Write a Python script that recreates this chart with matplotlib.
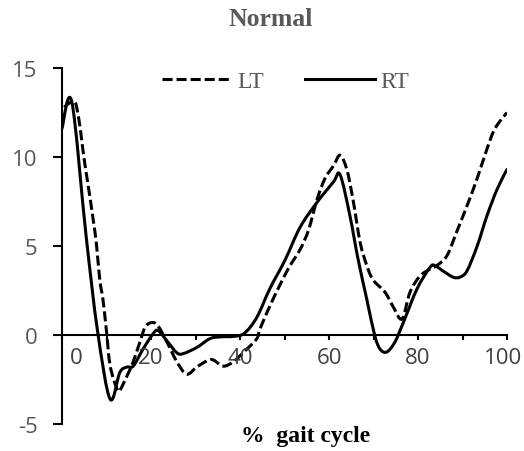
import numpy as np
import matplotlib
matplotlib.use('Agg')
import matplotlib.pyplot as plt
from matplotlib.path import Path
from matplotlib.patches import PathPatch
from matplotlib.lines import Line2D
from matplotlib.transforms import ScaledTranslation

# ---------------- données ----------------
titre = 'Normal'
label_x = '%  gait cycle'

x_rt = [0, 2.2, 5.4, 8.0, 10.8, 13, 14.6, 16, 18.2, 20.4, 21.6, 23.8, 25.8,
        27.2, 30.3, 33.3, 36, 38.5, 41, 43.8, 46.7, 50.1, 53.5, 57.3, 61,
        62.5, 64.7, 66.5, 68.5, 70.3, 71.5, 73, 74.8, 76.7, 79.8, 82.7,
        83.8, 85.6, 87.9, 89.4, 91, 93.3, 95.5, 97.8, 100]
y_rt = [11.6, 13.1, 5.6, 0.2, -3.6, -2.1, -1.8, -1.75, -0.8, 0.05, 0.25,
        -0.4, -1.0, -1.05, -0.7, -0.2, -0.1, -0.08, 0.1, 1.0, 2.6, 4.2,
        6.05, 7.45, 8.6, 9.0, 6.7, 4.3, 2.0, -0.05, -0.8, -0.95, -0.4, 0.7,
        2.6, 3.8, 3.9, 3.6, 3.25, 3.25, 3.6, 5.0, 6.7, 8.2, 9.3]

x_lt = [0.5, 1.5, 2.9, 3.8, 4.5, 5.2, 7.4, 8.5, 9.2, 10, 10.8, 12.3, 13,
        14.6, 16, 17.5, 18.7, 20.2, 21.6, 23.6, 25.8, 28, 30.3, 32.6, 34,
        36.2, 38.5, 41.5, 43.8, 44.5, 47.4, 50.8, 53.5, 55.4, 57.3, 59.1,
        61, 62.5, 64, 65.4, 67, 68.5, 69.9, 72.6, 74.4, 76.4, 78.2, 80.4,
        82.7, 84.2, 86.5, 88.7, 91, 93.3, 95.5, 97.3, 100]
y_lt = [12.8, 13.0, 13.1, 12.1, 10.8, 9.5, 5.8, 3.1, 2.0, 0.2, -1.7, -3.0,
        -3.1, -2.3, -1.5, -0.4, 0.45, 0.7, 0.5, -0.4, -1.5, -2.2, -1.8,
        -1.45, -1.4, -1.75, -1.5, -0.8, -0.2, 0.35, 2.0, 3.7, 4.8, 5.9, 7.6,
        8.8, 9.5, 10.1, 9.3, 7.6, 5.2, 3.9, 3.1, 2.4, 1.6, 0.9, 2.4, 3.3,
        3.7, 3.9, 4.45, 5.8, 7.25, 8.8, 10.45, 11.6, 12.5]

yticks = [-5, 0, 5, 10, 15]
xticks = [0, 10, 20, 30, 40, 50, 60, 70, 80, 90, 100]
xticklabels = ['0', '', '20', '', '40', '', '60', '', '80', '', '100']


def courbe_lissee(x, y):
    ''' Chemin de Bezier passant par les points (lissage type Excel) '''
    p = np.column_stack([x, y]).astype(float)
    verts = [p[0]]
    codes = [Path.MOVETO]
    n = len(p)
    for i in range(n - 1):
        p0 = p[max(i - 1, 0)]
        p1 = p[i]
        p2 = p[i + 1]
        p3 = p[min(i + 2, n - 1)]
        c1 = p1 + (p2 - p0) / 6
        c2 = p2 - (p3 - p1) / 6
        verts += [c1, c2, p2]
        codes += [Path.CURVE4] * 3
    return Path(verts, codes)


# ---------------- figure ----------------
gris = '#595959'
fig = plt.figure(figsize=(5.24, 4.52), dpi=100)
ax = fig.add_axes([62 / 524, 27 / 452, 445 / 524, 356 / 452])

style_lt = dict(color='black', lw=2.2, linestyle=(0, (3.3, 1.3)))
style_rt = dict(color='black', lw=2.2, linestyle='-')

ax.add_patch(PathPatch(courbe_lissee(x_lt, y_lt), fill=False, edgecolor='black',
                       lw=2.2, linestyle=(0, (3.3, 1.3)), capstyle='butt'))
ax.add_patch(PathPatch(courbe_lissee(x_rt, y_rt), fill=False, edgecolor='black',
                       lw=2.2, capstyle='round', joinstyle='round'))

ax.set_xlim(0, 100)
ax.set_ylim(-5, 15)
ax.spines['top'].set_visible(False)
ax.spines['right'].set_visible(False)
ax.spines['bottom'].set_position(('data', 0))
ax.spines['left'].set_linewidth(1.5)
ax.spines['bottom'].set_linewidth(1.5)

ax.set_yticks(yticks)
ax.set_yticklabels([str(v) for v in yticks])
ax.set_xticks(xticks)
ax.set_xticklabels(xticklabels)
ax.tick_params(axis='y', length=6.5, width=1.5, pad=11, labelsize=16, labelcolor=gris)
ax.tick_params(axis='x', length=3.6, width=1.5, pad=5, labelsize=16, labelcolor='#404040')
for lab in ax.get_xticklabels() + ax.get_yticklabels():
    lab.set_family('Open Sans')

# le "0" de l'axe x est décalé vers la droite, le "100" un peu à gauche
labs = ax.get_xticklabels()
labs[0].set_transform(labs[0].get_transform() + ScaledTranslation(14 / 100, 0, fig.dpi_scale_trans))
labs[-1].set_transform(labs[-1].get_transform() + ScaledTranslation(-4 / 100, 0, fig.dpi_scale_trans))

fig.text(271 / 524, 1 - 20 / 452, titre, ha='center', va='center',
         family='Liberation Serif', fontweight='bold', fontsize=18.5, color=gris)
fig.text(306 / 524, 1 - 437 / 452, label_x, ha='center', va='center',
         family='Liberation Serif', fontweight='bold', fontsize=17, color='black')

handles = [Line2D([], [], **style_lt), Line2D([], [], **style_rt)]
fig.legend(handles, ['LT', 'RT'], loc='center', bbox_to_anchor=(285.5 / 524, 1 - 82 / 452),
           ncol=2, frameon=False, handlelength=2.97, handletextpad=0.25, columnspacing=1.7,
           borderpad=0, labelcolor=gris,
           prop={'family': 'Liberation Serif', 'size': 17})

fig.savefig('out.png', dpi=100)
